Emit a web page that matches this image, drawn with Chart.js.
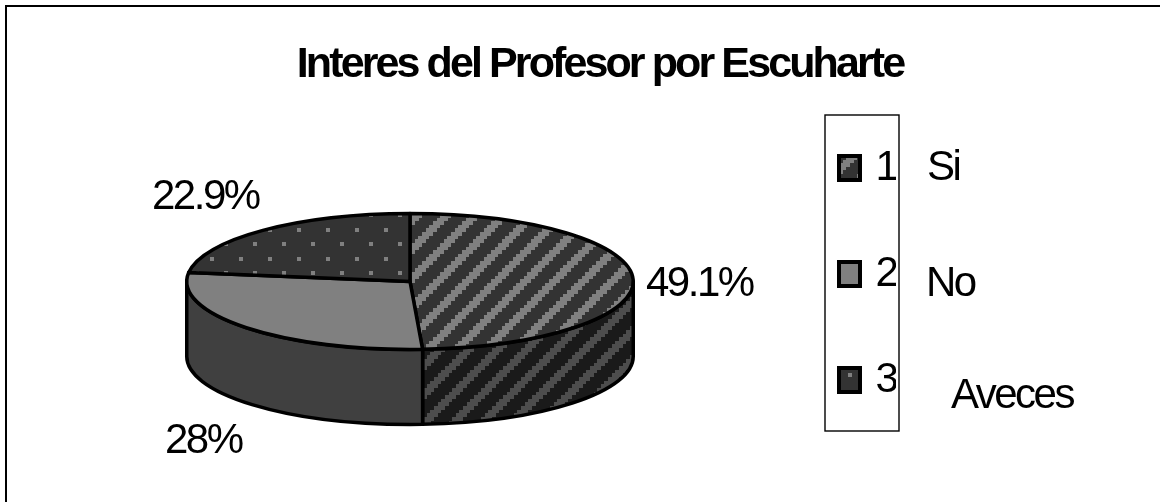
<!DOCTYPE html>
<html><head><meta charset="utf-8">
<style>html,body{margin:0;padding:0;background:#fff;overflow:hidden}canvas{display:block}</style>
<script src="https://cdn.jsdelivr.net/npm/chart.js@4"></script>
</head><body><canvas id="c" width="1160" height="502"></canvas>
<script>
const titleText = 'Interes del Profesor por Escuharte';
const categories = ['Si', 'No', 'Aveces'];
const legendCodes = ['1', '2', '3'];
const values = [49.1, 28, 22.9];

const FONT = '"Liberation Sans", Arial, sans-serif';
const GEO = {cx: 410, cy: 281.5, rx: 225, ry: 68.5, depth: 75};

function stripes(bg, fg, phase) {
  const T = 29, STEPS = 8, BAND = 11, c = document.createElement('canvas');
  c.width = T; c.height = T;
  const g = c.getContext('2d');
  g.fillStyle = bg; g.fillRect(0, 0, T, T);
  g.fillStyle = fg;
  for (let k = 0; k < STEPS; k++) {
    const y0 = Math.round(k * T / STEPS), y1 = Math.round((k + 1) * T / STEPS);
    const x0 = Math.round(((phase - k * T / STEPS) % T + T) % T);
    for (const s of [-T, 0]) g.fillRect(x0 + s, y0, BAND, y1 - y0);
  }
  return g.createPattern(c, 'repeat');
}
function dots(bg, fg) {
  const c = document.createElement('canvas');
  c.width = 29; c.height = 29;
  const g = c.getContext('2d');
  g.fillStyle = bg; g.fillRect(0, 0, 29, 29);
  g.fillStyle = fg;
  g.fillRect(7, 25, 4, 4);
  g.fillRect(21, 10, 4, 4);
  return g.createPattern(c, 'repeat');
}
const topFills = [stripes('#333333', '#808080', 16), '#808080', dots('#333333', '#808080')];
const wallFills = [stripes('#1a1a1a', '#4d4d4d', 28), '#404040', '#1a1a1a'];

const pie3d = {
  id: 'pie3d',
  afterLayout(chart) {
    chart.chartArea = {left: GEO.cx - GEO.rx, right: GEO.cx + GEO.rx, top: GEO.cy - GEO.rx, bottom: GEO.cy + GEO.rx,
      width: GEO.rx * 2, height: GEO.rx * 2};
    const l = chart.legend;
    l.left = 775; l.right = 896; l.top = 83; l.bottom = 480;
    l.width = l.right - l.left; l.height = l.bottom - l.top;
  },
  beforeDraw(chart) {
    const ctx = chart.ctx;
    ctx.save();
    ctx.fillStyle = '#fff'; ctx.fillRect(0, 0, 1160, 502);
    ctx.strokeStyle = '#000'; ctx.lineWidth = 2;
    ctx.beginPath(); ctx.moveTo(6, 502); ctx.lineTo(6, 6); ctx.lineTo(1160, 6); ctx.stroke();
    ctx.lineWidth = 1.4;
    ctx.strokeRect(825, 115, 74, 316);
    ctx.restore();
    ctx.letterSpacing = '-2.9px';
  },
  beforeDatasetDraw(chart) {
    const ctx = chart.ctx, k = GEO.ry / GEO.rx;
    const fill = ctx.fill, stroke = ctx.stroke;
    const flat = fn => function () {
      const m = ctx.getTransform();
      ctx.resetTransform();
      fn.apply(ctx, arguments);
      ctx.setTransform(m);
    };
    ctx.fill = flat(fill); ctx.stroke = flat(stroke);
    ctx.save();
    ctx.translate(0, GEO.cy); ctx.scale(1, k); ctx.translate(0, -GEO.cy);
    const d = GEO.depth / k;
    chart.getDatasetMeta(0).data.forEach((arc, i) => {
      const a0 = Math.max(arc.startAngle, 0), a1 = Math.min(arc.endAngle, Math.PI);
      if (a1 <= a0) return;
      ctx.beginPath();
      ctx.arc(arc.x, arc.y, arc.outerRadius, a0, a1);
      ctx.arc(arc.x, arc.y + d, arc.outerRadius, a1, a0, true);
      ctx.closePath();
      ctx.fillStyle = wallFills[i]; ctx.fill();
      ctx.strokeStyle = '#000'; ctx.lineWidth = 3.5; ctx.lineJoin = 'round'; ctx.stroke();
    });
  },
  afterDatasetDraw(chart) {
    const ctx = chart.ctx;
    ctx.restore();
    delete ctx.fill; delete ctx.stroke;
  },
  afterDraw(chart) {
    const ctx = chart.ctx;
    ctx.save();
    ctx.fillStyle = '#000';
    ctx.font = '42px ' + FONT;
    ctx.textBaseline = 'alphabetic'; ctx.textAlign = 'left';
    ctx.letterSpacing = '-2.5px';
    const valueAt = [[646, 296], [165, 453], [152, 209]];
    values.forEach((v, i) => ctx.fillText(v + '%', valueAt[i][0], valueAt[i][1]));
    const catAt = [[927, 180], [926, 296], [951, 408]];
    categories.forEach((t, i) => ctx.fillText(t, catAt[i][0], catAt[i][1]));
    ctx.restore();
  }
};

new Chart(document.getElementById('c'), {
  type: 'pie',
  data: {
    labels: categories,
    datasets: [{
      data: values,
      backgroundColor: topFills,
      borderColor: '#000',
      borderWidth: 3.5,
      borderJoinStyle: 'round',
      clip: false
    }]
  },
  options: {
    responsive: false,
    animation: false,
    events: [],
    layout: {padding: {left: 40}},
    plugins: {
      tooltip: {enabled: false},
      title: {
        display: true,
        text: titleText,
        color: '#000',
        font: {family: FONT, size: 43, weight: 'bold'},
        padding: {top: 39, bottom: 4}
      },
      legend: {
        position: 'right',
        align: 'start',
        labels: {
          color: '#000',
          font: {family: FONT, size: 42},
          boxWidth: 21,
          boxHeight: 24,
          padding: 64,
          textAlign: 'right',
          generateLabels: () => legendCodes.map((t, i) => ({
            text: t, fillStyle: topFills[i], strokeStyle: '#000', lineWidth: 4, index: i, hidden: false
          }))
        }
      }
    }
  },
  plugins: [pie3d]
});
</script></body></html>
